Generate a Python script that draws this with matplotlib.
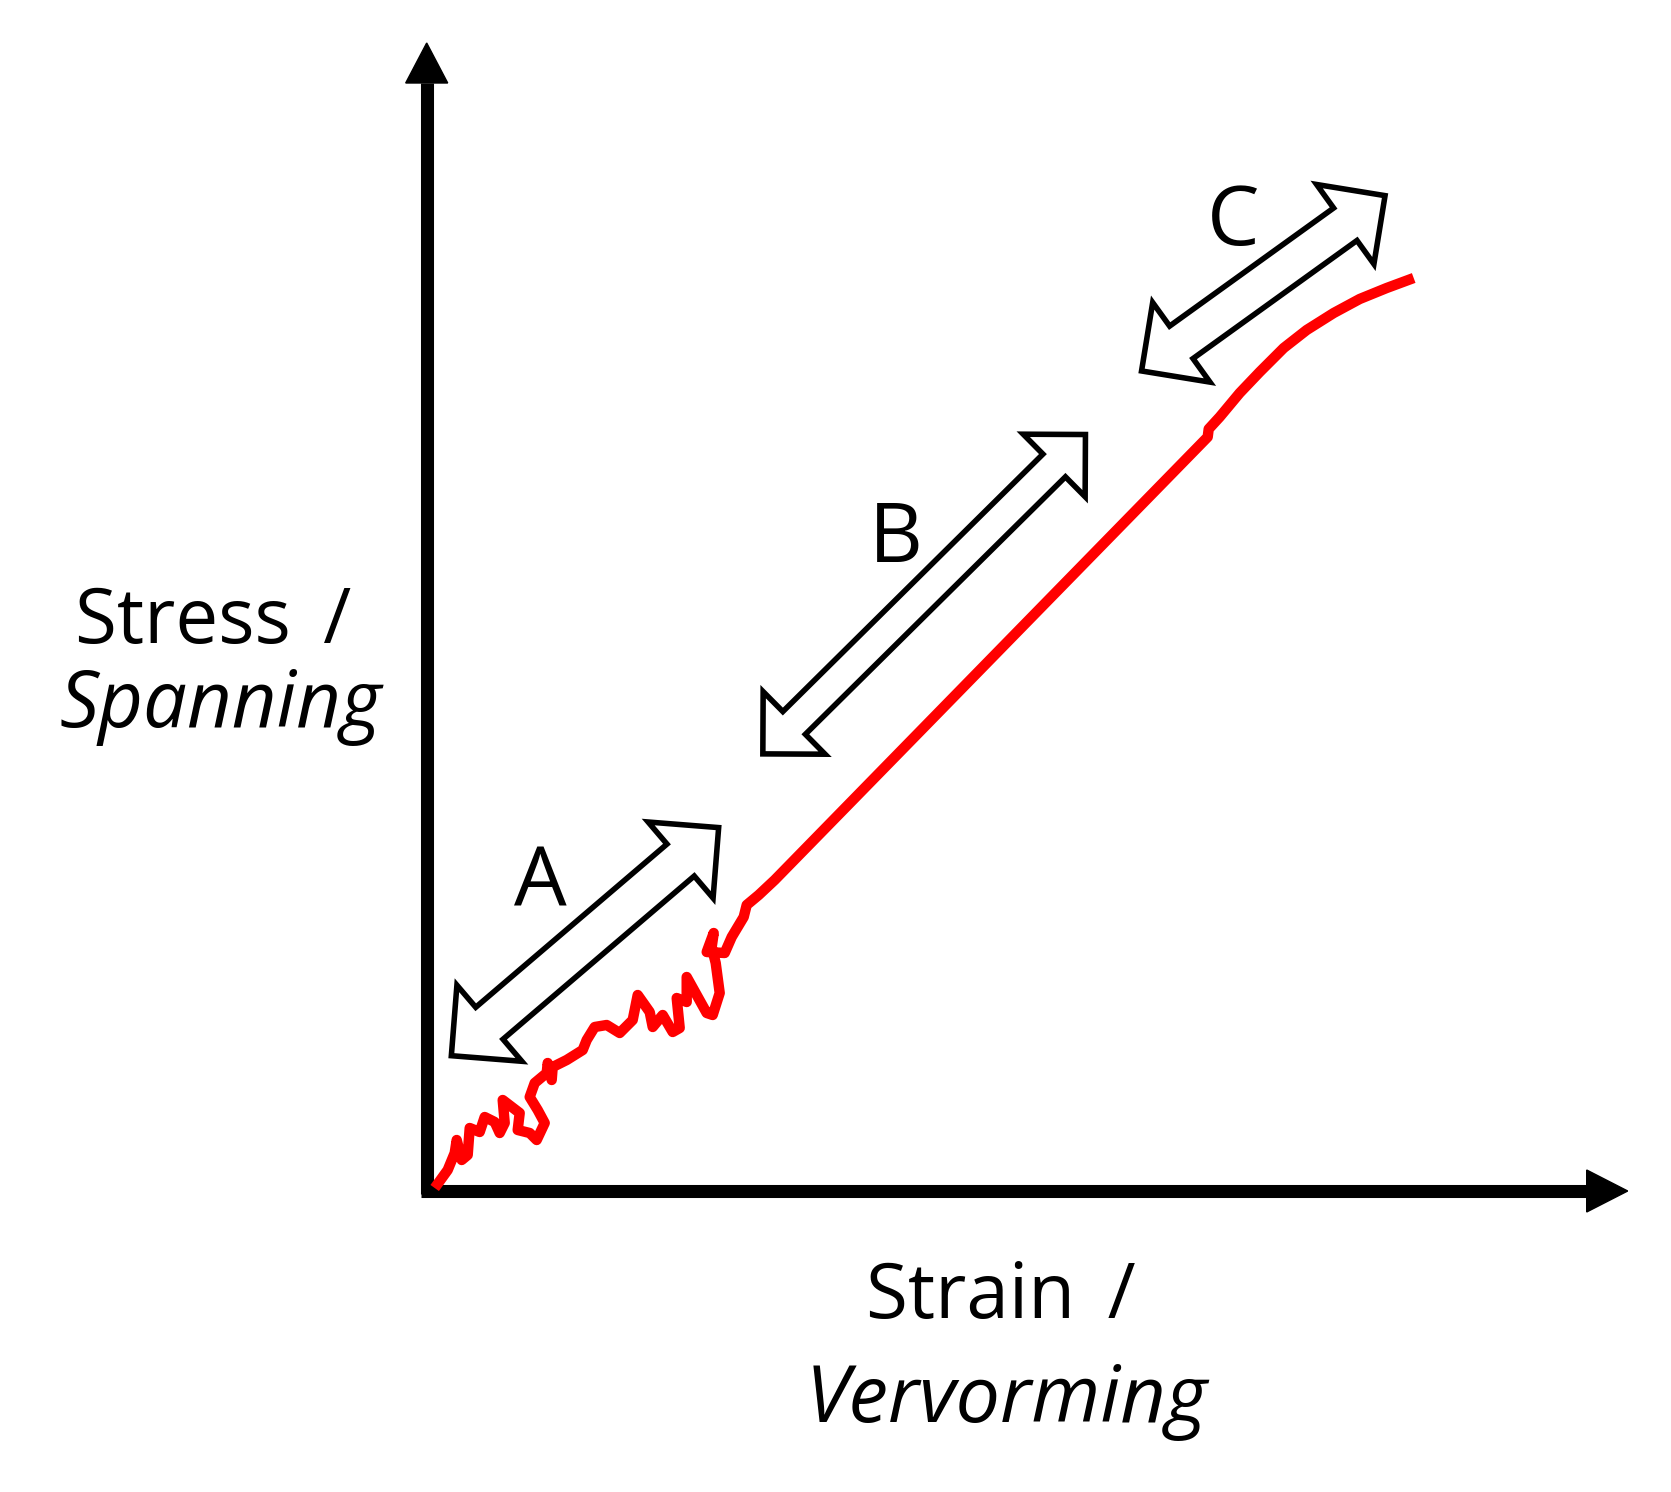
import matplotlib.pyplot as plt
import numpy as np

plt.rcParams['font.family'] = ['Open Sans', 'DejaVu Sans']

############################ data (units: px from the axis corner) ############################
strain = [8, 21, 28, 30, 35, 41, 43, 53, 58, 68, 73, 78, 76, 93, 91, 103, 110, 118, 111, 103,
          108, 120, 121, 125, 126, 140, 156, 160, 168, 180, 193, 206, 211, 223, 226, 236, 246,
          253, 250, 260, 260, 280, 286, 293, 289, 285, 287, 280, 298, 305, 317, 320, 332, 348,
          781, 782, 793, 813, 833, 857, 880, 907, 933, 960, 987]
stress = [3, 21, 38, 51, 31, 36, 63, 59, 74, 69, 58, 68, 91, 78, 61, 58, 51, 68, 81, 94,
          108, 118, 128, 111, 124, 131, 141, 151, 164, 166, 158, 171, 196, 179, 164, 176, 159,
          163, 193, 189, 214, 178, 176, 198, 228, 244, 258, 239, 238, 254, 274, 286, 296, 311,
          754, 762, 774, 798, 819, 843, 861, 878, 892, 903, 913]

regions = ['A', 'B', 'C']
x_label = ['Strain\u2009 /', 'Vervorming']
y_label = ['Stress\u2009 /', 'Spanning']

############################ layout ####################################
W, H = 1671, 1492
ox, oy = 426.7, 1191  # axis corner in image pixels

fig = plt.figure(figsize=(W / 100, H / 100), dpi=100)
ax = fig.add_axes([0, 0, 1, 1])
ax.set_xlim(-ox, W - ox)
ax.set_ylim(oy - H, oy)
ax.axis('off')

# axes with arrow heads
ax.plot([0, 0], [-3, 1108], color='black', lw=9.4, solid_capstyle='butt')
ax.fill([-21, 21, 0], [1108, 1108, 1148], color='black')
ax.plot([-6, 1160], [0, 0], color='black', lw=9.4, solid_capstyle='butt')
ax.fill([1160, 1160, 1201], [-21, 21, 0], color='black')

# red stress-strain curve
ax.plot(strain, stress, color='#ff0000', lw=7.5, solid_joinstyle='round', solid_capstyle='butt')


# hollow double arrows
def double_arrow(p0, p1, head_w, shaft_w, head_l):
    p0, p1 = np.array(p0, float), np.array(p1, float)
    u = (p1 - p0) / np.linalg.norm(p1 - p0)
    n = np.array([-u[1], u[0]])
    p0, p1 = p0 + 4 * u, p1 - 4 * u
    b1 = p1 - head_l * u
    b0 = p0 + head_l * u
    pts = [p1, b1 + head_w * n, b1 + shaft_w * n, b0 + shaft_w * n, b0 + head_w * n,
           p0, b0 - head_w * n, b0 - shaft_w * n, b1 - shaft_w * n, b1 - head_w * n]
    pts = np.array(pts)
    ax.fill(pts[:, 0], pts[:, 1], facecolor='white', edgecolor='black', lw=4, joinstyle='miter')


arrows = [((21.6, 132.7), (295, 366), 50, 21, 50),
          ((333.3, 434.3), (661.6, 759.3), 44, 16, 44),
          ((711.6, 817.7), (961.6, 997.7), 49, 20, 49)]
for a in arrows:
    double_arrow(*a)

# region letters
letter_pos = [(114, 284), (469, 629), (806, 946)]
for lab, (lx, ly) in zip(regions, letter_pos):
    ax.text(lx, ly, lab, fontsize=60, ha='center', va='baseline')

# axis titles
ax.text(-214, 548, y_label[0], fontsize=55, ha='center', va='baseline')
ax.text(-206, 464, y_label[1], fontsize=56, style='italic', ha='center', va='baseline')
ax.text(574, -127, x_label[0], fontsize=55, ha='center', va='baseline')
ax.text(580, -231, x_label[1], fontsize=57, style='italic', ha='center', va='baseline')

fig.savefig('out.png', dpi=100, facecolor='white')
